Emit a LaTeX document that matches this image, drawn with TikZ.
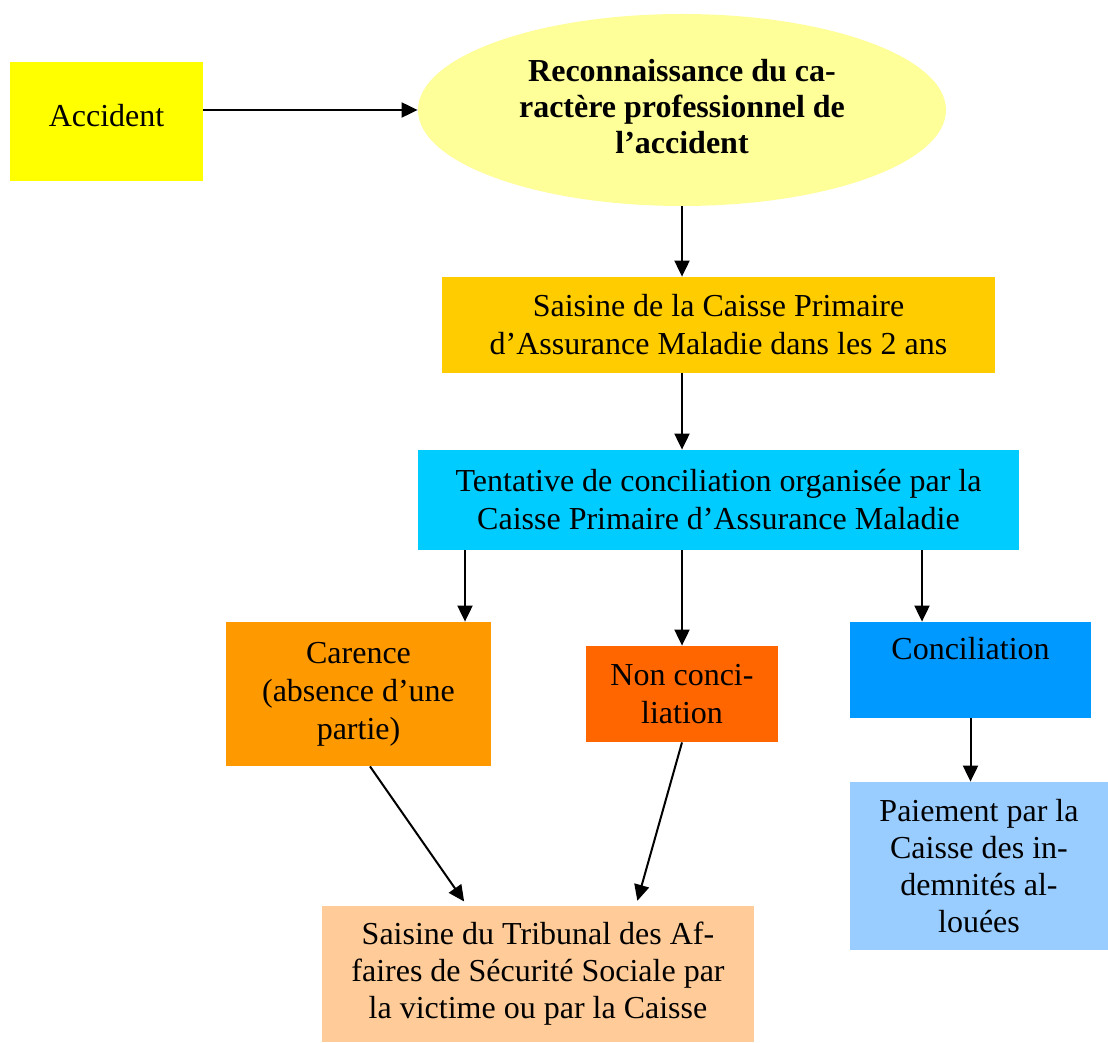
\documentclass[tikz,border=0pt]{standalone}
\usepackage{fontspec}
\setmainfont{Liberation Serif}
\usetikzlibrary{shapes.geometric,arrows.meta}
\definecolor{cAcc}{HTML}{FFFF00}
\definecolor{cEll}{HTML}{FFFF99}
\definecolor{cCpam}{HTML}{FFCC00}
\definecolor{cTent}{HTML}{00CCFF}
\definecolor{cCar}{HTML}{FF9900}
\definecolor{cNon}{HTML}{FF6600}
\definecolor{cCon}{HTML}{0099FF}
\definecolor{cPai}{HTML}{99CCFF}
\definecolor{cTri}{HTML}{FFCC99}
\begin{document}
\begin{tikzpicture}[x=0.5pt,y=-0.5pt,
  box/.style={rectangle,draw=none,inner sep=0pt,align=center,
    font=\fontsize{16}{18.5}\selectfont},
  arr/.style={-{Triangle[length=8pt,width=7.5pt]},line width=1pt}]
\useasboundingbox (0,0) rectangle (1108,1043);
\node[box,fill=cAcc,minimum width=96.5pt,minimum height=59.5pt] (acc) at (106.5,121.5) {Accident\\[-12.5pt]};
\node[box,ellipse,fill=cEll,minimum width=264pt,minimum height=96pt,font=\fontsize{16}{18}\selectfont\bfseries] (ell) at (682,110)
  {Reconnaissance du ca-\\ractère professionnel de\\l’accident\\[-14.5pt]};
\node[box,fill=cCpam,minimum width=276.5pt,minimum height=48pt,font=\fontsize{16}{19}\selectfont] (cpam) at (718.5,325)
  {Saisine de la Caisse Primaire\\d’Assurance Maladie dans les 2 ans};
\node[box,fill=cTent,minimum width=300.5pt,minimum height=50pt,font=\fontsize{16}{19}\selectfont] (tent) at (718.5,500)
  {Tentative de conciliation organisée par la\\Caisse Primaire d’Assurance Maladie};
\node[box,fill=cCar,minimum width=132.5pt,minimum height=72pt,font=\fontsize{16}{19}\selectfont] (car) at (358.5,694)
  {Carence\\(absence d’une\\partie)};
\node[box,fill=cNon,minimum width=96pt,minimum height=48pt,font=\fontsize{16}{19}\selectfont] (non) at (682,694)
  {Non conci-\\liation};
\node[box,fill=cCon,minimum width=120.5pt,minimum height=48pt,font=\fontsize{16}{19}\selectfont] (con) at (970.5,670)
  {Conciliation\\[-3pt]\strut};
\node[box,fill=cPai,minimum width=129pt,minimum height=84pt] (pai) at (979,866)
  {Paiement par la\\Caisse des in-\\demnités al-\\louées};
\node[box,fill=cTri,minimum width=216pt,minimum height=68pt] (tri) at (538,974)
  {Saisine du Tribunal des Af-\\faires de Sécurité Sociale par\\la victime ou par la Caisse};
\coordinate (xa) at (465,0);
\coordinate (xb) at (922,0);
\coordinate (xs) at (370,0);
\coordinate (xe) at (467,0);
\coordinate (xf) at (636,0);
\draw[arr] (acc.east |- ell.west) -- (ell.west);
\draw[arr] (ell.south) -- (ell.south |- cpam.north);
\draw[arr] (ell.south |- cpam.south) -- (ell.south |- tent.north);
\draw[arr] (xa |- tent.south) -- (xa |- car.north);
\draw[arr] (non.north |- tent.south) -- (non.north);
\draw[arr] (xb |- tent.south) -- (xb |- con.north);
\draw[arr] (con.south) -- (con.south |- pai.north);
\draw[arr,shorten >=2.5pt] (xs |- car.south) -- (xe |- tri.north);
\draw[arr,shorten >=2.5pt] (non.south) -- (xf |- tri.north);
\end{tikzpicture}
\end{document}
